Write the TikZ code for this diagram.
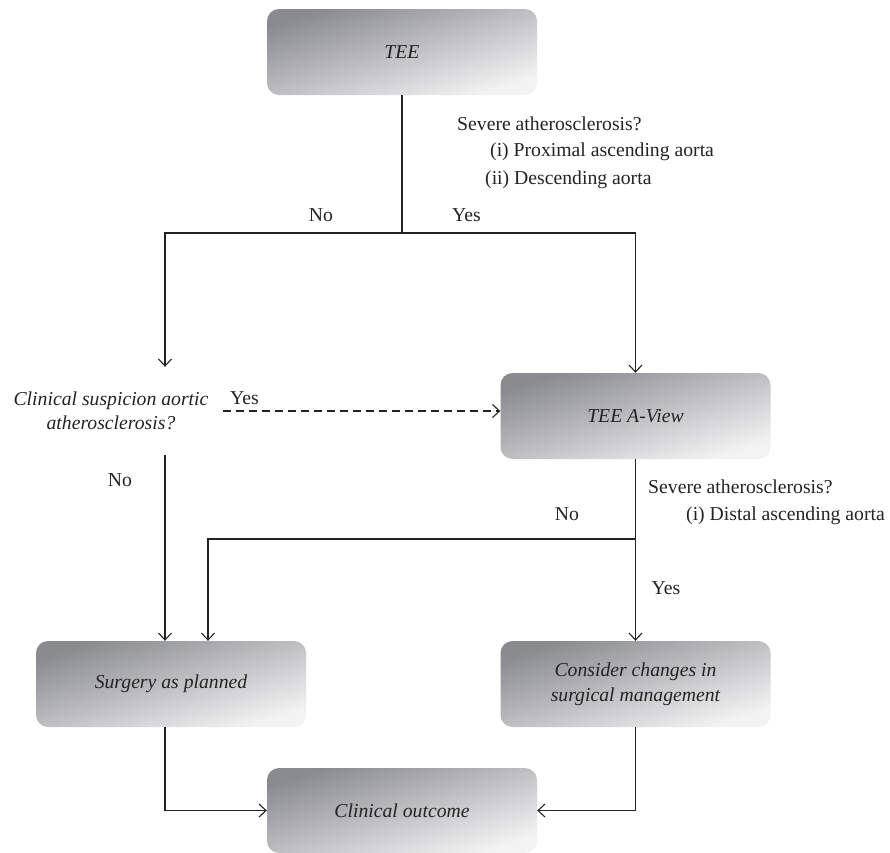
\documentclass[tikz,border=0pt]{standalone}
\usepackage{fontspec}
\setmainfont{Liberation Serif}
\usetikzlibrary{arrows.meta, calc}

\definecolor{boxdark}{RGB}{138,139,143}
\definecolor{boxlight}{RGB}{243,243,244}
\definecolor{ink}{RGB}{35,35,35}

\tikzset{
    every node/.append style={font=\fontsize{19.7}{24}\selectfont, text=ink},
    box/.style={rounded corners=12pt, minimum width=270pt, minimum height=86pt, top color=boxdark, bottom color=boxlight, shading angle=18, align=center, font=\fontsize{19.7}{25}\selectfont\itshape},
    lbl/.style={anchor=west, inner sep=0pt},
    flow/.style={draw=ink, line width=1.1pt, -{Straight Barb[length=7pt, width=13pt]}}
}

\begin{document}
\begin{tikzpicture}[x=1pt, y=-1pt]
                        \useasboundingbox (0, 0) rectangle (890, 852);

                        \node[box] (tee) at (402, 52) {TEE};
                        \node[box] (aview) at (635.5, 416) {TEE A-View};
                        \node[box] (surg) at (171, 684) {Surgery as planned};
                        \node[box] (cons) at (635.5, 684) {Consider changes in\\surgical management};
                        \node[box, minimum height=85pt] (outc) at (402, 810.5) {Clinical outcome};
                        \node[align=center, font=\fontsize{19.7}{24}\selectfont\itshape, inner xsep=14pt, minimum height=88pt] (susp) at (111, 411) {Clinical suspicion aortic\\atherosclerosis?};

                        \coordinate (fork) at (402, 233);
                        \coordinate (lcol) at (165, 0);
                        \coordinate (nofork) at (635.5, 539);

                        \node[lbl] (q1) at (457, 124) {Severe atherosclerosis?};
                        \node[lbl] (q1a) at (490, 152) {(i) Proximal ascending aorta};
                        \node[lbl] (q1b) at (485, 180) {(ii) Descending aorta};
                        \node (no1) at (321, 215) {No};
                        \node[lbl] (yes1) at (452, 215) {Yes};
                        \node[lbl] (yes2) at (230, 398) {Yes};
                        \node (no2) at (120, 480) {No};
                        \node[lbl] (q2) at (648, 487) {Severe atherosclerosis?};
                        \node[lbl] (q2a) at (686, 516) {(i) Distal ascending aorta};
                        \node (no3) at (567, 514) {No};
                        \node (yes3) at (666, 588) {Yes};

                        \draw[draw=ink, line width=1.1pt]
                        (tee.south) -- (fork);

                        \draw[flow] (fork) -| (lcol |- susp.north);
                        \draw[flow] (fork) -| (aview);
                        \draw[flow, dash pattern=on 8pt off 5pt] (susp.east) -- (susp.east -| aview.west);
                        \draw[flow] (lcol |- susp.south) -- (lcol |- surg.north);
                        \draw[flow] (aview.south) -- (cons.north);
                        \draw[flow] (nofork) -| ($(surg.north) + (37, 0)$);
                        \draw[flow] (lcol |- surg.south) |- (outc);
                        \draw[flow] (cons.south) |- (outc);
                    \end{tikzpicture}
\end{document}
